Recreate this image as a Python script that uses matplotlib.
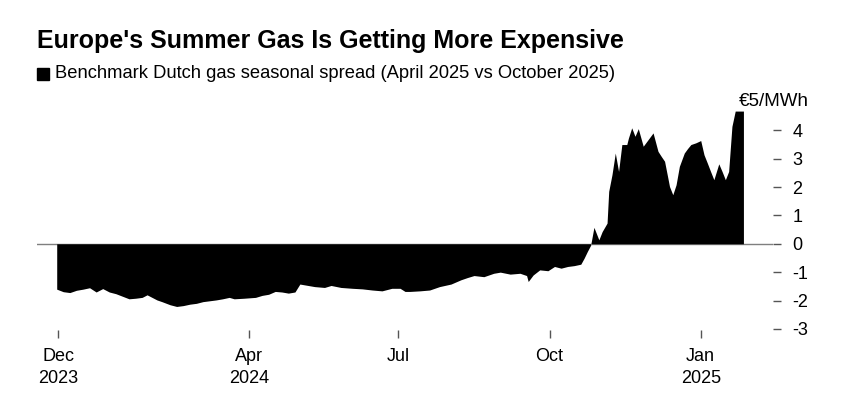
import matplotlib
matplotlib.use("Agg")
import matplotlib.pyplot as plt
from matplotlib.patches import Rectangle
import pandas as pd

plt.rcParams['font.family'] = ['Liberation Sans', 'DejaVu Sans']
plt.rcParams['axes.unicode_minus'] = False

# TTF spread, April 2025 minus October 2025 contract (EUR/MWh)
dates = [
    "2023-12-06", "2023-12-10", "2023-12-14", "2023-12-18", "2023-12-22", "2023-12-26",
    "2023-12-30", "2024-01-03", "2024-01-07", "2024-01-11", "2024-01-15", "2024-01-19",
    "2024-01-23", "2024-01-27", "2024-01-30", "2024-02-05", "2024-02-08", "2024-02-13",
    "2024-02-17", "2024-02-21", "2024-02-25", "2024-02-29", "2024-03-04", "2024-03-08",
    "2024-03-12", "2024-03-16", "2024-03-20", "2024-03-23", "2024-03-29", "2024-04-05",
    "2024-04-09", "2024-04-13", "2024-04-17", "2024-04-21", "2024-04-25", "2024-04-29",
    "2024-05-02", "2024-05-05", "2024-05-11", "2024-05-17", "2024-05-21", "2024-05-27",
    "2024-06-03", "2024-06-09", "2024-06-15", "2024-06-21", "2024-06-27", "2024-07-02",
    "2024-07-05", "2024-07-08", "2024-07-14", "2024-07-20", "2024-07-26", "2024-08-02",
    "2024-08-08", "2024-08-12", "2024-08-16", "2024-08-22", "2024-08-28", "2024-09-01",
    "2024-09-07", "2024-09-13", "2024-09-17", "2024-09-18", "2024-09-21", "2024-09-25",
    "2024-09-30", "2024-10-04", "2024-10-08", "2024-10-12", "2024-10-16", "2024-10-20",
    "2024-10-22", "2024-10-24", "2024-10-26", "2024-10-28", "2024-10-31", "2024-11-02",
    "2024-11-05", "2024-11-06", "2024-11-08", "2024-11-10", "2024-11-12", "2024-11-14",
    "2024-11-17", "2024-11-18", "2024-11-20", "2024-11-22", "2024-11-24", "2024-11-27",
    "2024-12-03", "2024-12-06", "2024-12-08", "2024-12-10", "2024-12-12", "2024-12-13",
    "2024-12-15", "2024-12-17", "2024-12-19", "2024-12-22", "2024-12-24", "2024-12-26",
    "2024-12-29", "2025-01-01", "2025-01-03", "2025-01-05", "2025-01-07", "2025-01-09",
    "2025-01-12", "2025-01-14", "2025-01-16", "2025-01-18", "2025-01-20", "2025-01-22",
    "2025-01-27",
]
spread = [
    -1.60, -1.69, -1.72, -1.64, -1.60, -1.55,
    -1.70, -1.58, -1.70, -1.76, -1.85, -1.94,
    -1.92, -1.89, -1.80, -1.98, -2.04, -2.15,
    -2.21, -2.18, -2.13, -2.10, -2.04, -2.01,
    -1.98, -1.94, -1.89, -1.94, -1.92, -1.89,
    -1.82, -1.78, -1.68, -1.70, -1.74, -1.70,
    -1.42, -1.45, -1.51, -1.54, -1.47, -1.54,
    -1.57, -1.59, -1.63, -1.66, -1.57, -1.57,
    -1.68, -1.68, -1.66, -1.63, -1.51, -1.42,
    -1.27, -1.19, -1.12, -1.16, -1.04, -1.00,
    -1.07, -1.04, -1.12, -1.33, -1.10, -0.92,
    -0.95, -0.80, -0.86, -0.80, -0.77, -0.72,
    -0.51, -0.27, -0.05, 0.58, 0.14, 0.43,
    0.73, 1.85, 2.44, 3.20, 2.55, 3.50,
    3.50, 3.73, 4.09, 3.79, 4.06, 3.44,
    3.91, 3.26, 3.08, 2.91, 2.32, 2.02,
    1.73, 2.08, 2.73, 3.20, 3.36, 3.50,
    3.56, 3.64, 3.14, 2.85, 2.55, 2.26,
    2.82, 2.55, 2.26, 2.55, 4.14, 4.68,
    4.68,
]

yticks = [-3, -2, -1, 0, 1, 2, 3, 4]
xtick_dates = ["2023-12-07", "2024-04-01", "2024-07-01", "2024-10-01", "2025-01-01"]
xtick_labels = ["Dec\n2023", "Apr\n2024", "Jul", "Oct", "Jan\n2025"]

title = "Europe's Summer Gas Is Getting More Expensive"
subtitle = "Benchmark Dutch gas seasonal spread (April 2025 vs October 2025)"

x = pd.to_datetime(dates)

fig = plt.figure(figsize=(8.5, 4.08), dpi=100)
ax = fig.add_axes([37/850, 78/408, 736/850, 228/408])

ax.axhline(0, color='#7f7f7f', lw=1, zorder=1)
ax.fill_between(x, spread, 0, color='black', lw=0, zorder=2)

ax.set_xlim(pd.Timestamp("2023-11-24"), pd.Timestamp("2025-02-14"))
ax.set_ylim(-3.04, 5.0)

ax.set_xticks(pd.to_datetime(xtick_dates))
ax.set_xticklabels(xtick_labels, fontsize=13, linespacing=1.4)
ax.set_yticks(yticks)
ax.set_yticklabels([str(v) for v in yticks], fontsize=13)
ax.yaxis.tick_right()
ax.tick_params(axis='y', length=6, width=1, color='#555555', pad=8, labelcolor='black')
ax.tick_params(axis='x', length=6, width=1, color='#555555', pad=7, labelcolor='black')

for s in ax.spines.values():
    s.set_visible(False)

ax.text(1.049, 5.0, "€5/MWh", transform=ax.get_yaxis_transform(),
        ha='right', va='center', fontsize=13.5)

fig.text(37/850, 1 - 41/408, title, fontsize=18, fontweight='bold', va='center', ha='left')
fig.patches.append(Rectangle((37/850, 1 - 80/408), 12/850, 12/408,
                             transform=fig.transFigure, color='black'))
fig.text(55/850, 1 - 74/408, subtitle, fontsize=13.2, va='center', ha='left')

fig.savefig("out.png", dpi=100)
